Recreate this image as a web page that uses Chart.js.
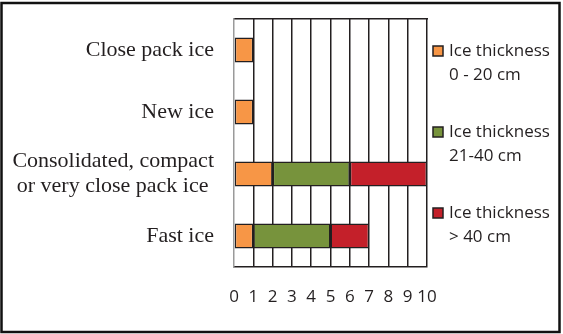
<!DOCTYPE html>
<html>
<head>
<meta charset="utf-8">
<script src="https://cdn.jsdelivr.net/npm/chart.js@4"></script>
<style>
  html, body { margin: 0; padding: 0; background: #fff; }
  #wrap { position: relative; width: 563px; height: 334px; }
</style>
</head>
<body>
<div id="wrap"><canvas id="iceChart" width="563" height="334"></canvas></div>
<script>
// Данные графика
const categories = [
    'Close pack ice',
    'New ice',
    ['Consolidated, compact', 'or very close pack ice '],
    'Fast ice'
];
const thin = [1, 1, 2, 1];          // 0 - 20 cm
const medium = [null, null, 4, 4];  // 21-40 cm
const thick = [null, null, 4, 2];   // > 40 cm
const seriesNames = [
    ['Ice thickness', '0 - 20 cm'],
    ['Ice thickness', '21-40 cm'],
    ['Ice thickness', '> 40 cm']
];
const xTicks = [0, 1, 2, 3, 4, 5, 6, 7, 8, 9, 10];

const colors = ['#F79646', '#77933C', '#C4202A'];
const dark = '#231f20';

// Легенда справа, в две строки на пункт
const sideLegend = {
    id: 'sideLegend',
    afterDraw(chart) {
        const ctx = chart.ctx;
        ctx.save();
        ctx.font = '17px "Open Sans"';
        ctx.fillStyle = dark;
        ctx.textBaseline = 'middle';
        chart.data.datasets.forEach((ds, i) => {
            const y = 51 + i * 81;
            ctx.fillStyle = ds.backgroundColor;
            ctx.fillRect(433, y - 5, 10, 10);
            ctx.lineWidth = 1.5;
            ctx.strokeStyle = dark;
            ctx.strokeRect(433, y - 5, 10, 10);
            ctx.fillStyle = dark;
            seriesNames[i].forEach((line, j) => {
                ctx.fillText(line, 449, y + j * 24);
            });
        });
        // рамка вокруг рисунка
        ctx.lineWidth = 2.5;
        ctx.strokeStyle = '#111';
        ctx.strokeRect(1.5, 3, 558, 329);
        ctx.restore();
    }
};

new Chart(document.getElementById('iceChart'), {
    type: 'bar',
    data: {
        labels: categories,
        datasets: [thin, medium, thick].map((values, i) => ({
            label: seriesNames[i].join(' '),
            data: values,
            backgroundColor: colors[i],
            borderColor: dark,
            borderWidth: 1.5,
            borderSkipped: false,
            categoryPercentage: 0.8,
            barPercentage: 0.5
        }))
    },
    options: {
        indexAxis: 'y',
        responsive: false,
        animation: false,
        layout: { padding: { top: 19, right: 136, bottom: 0, left: 0 } },
        plugins: {
            legend: { display: false },
            tooltip: { enabled: false }
        },
        scales: {
            x: {
                stacked: true,
                min: 0,
                max: 10,
                afterBuildTicks: scale => { scale.ticks = xTicks.map(v => ({ value: v })); },
                afterFit: scale => { scale.height = 67; },
                border: { display: true, color: dark, width: 1.5 },
                grid: {
                    drawTicks: false,
                    lineWidth: 1.5,
                    color: c => (c.index === 0 ? 'rgba(0,0,0,0)' : dark)
                },
                ticks: {
                    padding: 20,
                    autoSkip: false,
                    maxRotation: 0,
                    minRotation: 0,
                    color: dark,
                    font: { family: 'Open Sans', size: 17 }
                }
            },
            xTop: {
                type: 'linear',
                position: 'top',
                min: 0,
                max: 10,
                afterFit: scale => { scale.height = 0; },
                border: { display: true, color: dark, width: 1.5 },
                grid: { display: false, drawTicks: false },
                ticks: { display: false }
            },
            y: {
                stacked: true,
                afterFit: scale => {
                    scale.width = 234;
                    scale.paddingTop = 0;
                    scale.paddingBottom = 0;
                },
                border: { display: true, color: '#9a9a9a', width: 1.5 },
                grid: { display: false, drawTicks: false },
                ticks: {
                    padding: 20,
                    color: dark,
                    font: { family: 'Liberation Serif', size: 22, lineHeight: 1.15 }
                }
            }
        }
    },
    plugins: [sideLegend]
});
</script>
</body>
</html>
